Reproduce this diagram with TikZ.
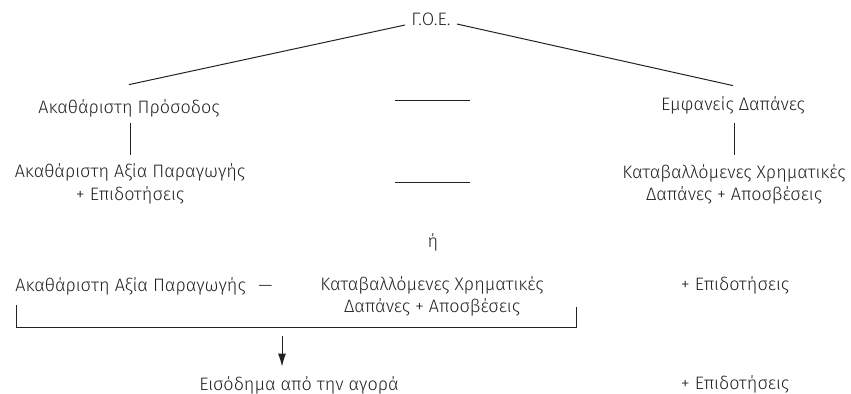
\documentclass[tikz,border=0pt]{standalone}
\usepackage{fontspec}
\setmainfont{Fira Sans}[UprightFont=* Light]
\usetikzlibrary{arrows.meta}
\definecolor{ink}{HTML}{222222}

\begin{document}
\begin{tikzpicture}[x=0.5pt,y=-0.5pt, every node/.style={font=\fontsize{9}{11.3}\selectfont,text=ink,align=center,inner sep=3pt},
 oneline/.style={text height=7pt,text depth=2pt},
 ln/.style={draw=ink,line width=0.5pt},
 arr/.style={ln,-{Latex[length=6.5pt,width=4pt]}}]
\useasboundingbox (0,0) rectangle (851,393);
% first level
\node[oneline] (goe) at (431,20) {Γ.Ο.Ε.};
\node[oneline] (pros) at (129,108) {Ακαθάριστη Πρόσοδος};
\node[oneline] (emf) at (733,105) {Εμφανείς Δαπάνες};
\draw[ln] ([yshift=-2.5pt]goe.west) -- ([yshift=4pt]pros.north);
\draw[ln] ([yshift=-2pt]goe.east) -- ([yshift=2pt]emf.north);
\draw[ln] (395,100) -- (470,100);
% second level
\node (aap) at (130,184) {Ακαθάριστη Αξία Παραγωγής\\+ Επιδοτήσεις};
\node (kat) at (734,184.5) {Καταβαλλόμενες Χρηματικές\\Δαπάνες + Αποσβέσεις};
\draw[ln] (aap.north |- pros.south) -- ([yshift=1.5pt]aap.north);
\draw[ln] (kat.north |- emf.south) ++(0,3) -- ([yshift=1.5pt]kat.north);
\draw[ln] (395,182) -- (470,182);
\node[oneline] (or) at (433,242) {ή};
% third level
\node[oneline,anchor=west] (aap2) at (9,286) {Ακαθάριστη Αξία Παραγωγής\hspace{0.7em}—};
\node (kat2) at (432,296.5) {Καταβαλλόμενες Χρηματικές\\Δαπάνες + Αποσβέσεις};
\node[oneline] (epi) at (735,285) {+ Επιδοτήσεις};
\draw[ln] (16,305) |- (576,327) -- (576,307);
\coordinate (brk) at (282,327);
% result
\node[oneline] (inc) at (299,385) {Εισόδημα από την αγορά};
\node[oneline] (epi2) at (735,384) {+ Επιδοτήσεις};
\draw[arr,shorten <=4.5pt,shorten >=1.5pt] (brk) -- (brk |- inc.north);
\end{tikzpicture}
\end{document}
